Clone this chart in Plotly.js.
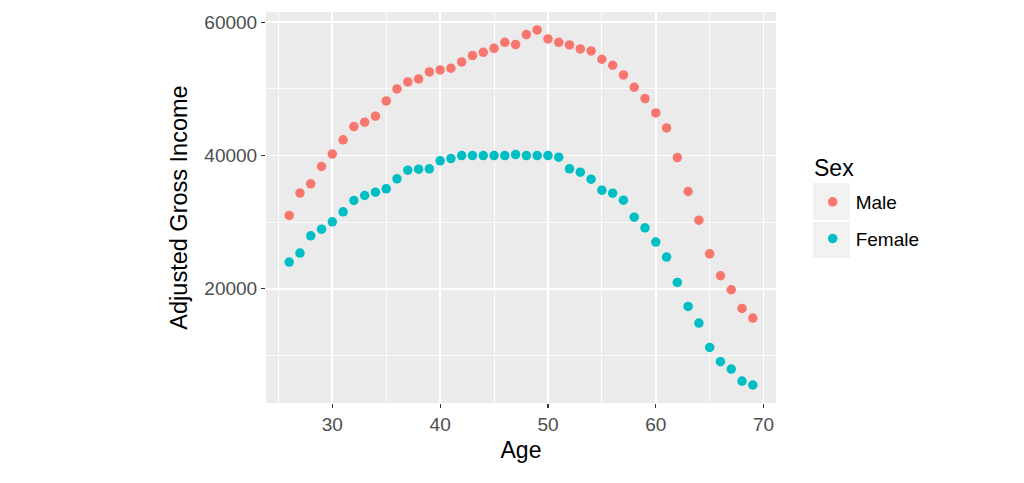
<!DOCTYPE html>
<html>
<head>
<meta charset="utf-8">
<script src="https://cdn.plot.ly/plotly-3.0.1.min.js"></script>
<style>html,body{margin:0;padding:0;background:#fff;}#chart{width:1024px;height:483px;}</style>
</head>
<body>
<div id="chart"></div>
<script>
const ages = [26,27,28,29,30,31,32,33,34,35,36,37,38,39,40,41,42,43,44,45,46,47,48,49,50,51,52,53,54,55,56,57,58,59,60,61,62,63,64,65,66,67,68,69];
const maleIncome = [31000,34360,35750,38350,40210,42355,44350,45000,45900,48200,50000,51050,51500,52550,52850,53100,54050,55000,55500,56100,57000,56650,58150,58850,57500,57000,56600,56000,55700,54450,53550,52100,50250,48550,46400,44150,39700,34600,30300,25250,21950,19850,17050,15600];
const femaleIncome = [24000,25350,27950,28950,30050,31550,33250,34000,34500,35000,36500,37800,37950,38000,39200,39550,40000,40000,40000,40000,40000,40150,40000,40000,40000,39750,38000,37500,36450,34800,34350,33300,30750,29150,27000,24750,20950,17350,14850,11200,9050,7950,6150,5550];
const seriesNames = ["Male","Female"];
const seriesColors = ["#F8766D","#00BFC4"];
const xTicks = [30,40,50,60,70];
const yTicks = [20000,40000,60000];
const legendTitle = "Sex";
const xTitle = "Age";
const yTitle = "Adjusted Gross Income";

const font = "Liberation Sans, Arial, sans-serif";
const traces = [maleIncome, femaleIncome].map((vals, i) => ({
  type: "scatter", mode: "markers", x: ages, y: vals, name: seriesNames[i],
  legendgroup: seriesNames[i],
  marker: {color: seriesColors[i], size: 9.5}
}));

const axisCommon = {
  showline: false, zeroline: false, ticks: "outside", ticklen: 4, tickwidth: 1.1, tickcolor: "#333333",
  gridcolor: "#FFFFFF", gridwidth: 1.7,
  tickfont: {family: font, size: 19, color: "#4D4D4D"},
  automargin: false
};

const PW = 510, PH = 391, PL = 266, PB = 403;
const px2x = p => (p - PL) / PW;
const px2y = p => (PB - p) / PH;

const layout = {
  width: 1024, height: 483,
  margin: {l: 266, r: 248, t: 12, b: 80},
  paper_bgcolor: "#FFFFFF", plot_bgcolor: "#EBEBEB",
  showlegend: true,
  xaxis: Object.assign({}, axisCommon, {
    range: [23.85, 71.15], tickvals: xTicks, ticktext: xTicks.map(String),
    minor: {tickvals: [25,35,45,55,65], showgrid: true, gridcolor: "#FFFFFF", gridwidth: 0.8, ticks: ""},
    title: {text: xTitle, font: {family: font, size: 23, color: "#000"}, standoff: 8}
  }),
  yaxis: Object.assign({}, axisCommon, {
    range: [2850, 61545], tickvals: yTicks, ticktext: yTicks.map(String),
    minor: {tickvals: [10000,30000,50000], showgrid: true, gridcolor: "#FFFFFF", gridwidth: 0.8, ticks: ""},
    title: {text: yTitle, font: {family: font, size: 23.5, color: "#000"}, standoff: 10}
  }),
  legend: {
    x: px2x(809.7), y: px2y(183), xanchor: "left", yanchor: "top",
    itemwidth: 36,
    font: {family: font, size: 19, color: "#000"},
    tracegroupgap: 9, bgcolor: "rgba(0,0,0,0)"
  },
  annotations: [
    {text: legendTitle, xref: "paper", yref: "paper", x: px2x(812), y: px2y(168), xanchor: "left", yanchor: "middle",
     showarrow: false, font: {family: font, size: 23, color: "#000"}}
  ],
  shapes: [
    {type: "rect", xref: "paper", yref: "paper", x0: px2x(813), x1: px2x(850), y0: px2y(183), y1: px2y(220), fillcolor: "#F2F2F2", line: {width: 0}, layer: "below"},
    {type: "rect", xref: "paper", yref: "paper", x0: px2x(813), x1: px2x(850), y0: px2y(222), y1: px2y(258), fillcolor: "#F2F2F2", line: {width: 0}, layer: "below"}
  ]
};

Plotly.newPlot("chart", traces, layout, {displayModeBar: false, staticPlot: true});
</script>
</body>
</html>
